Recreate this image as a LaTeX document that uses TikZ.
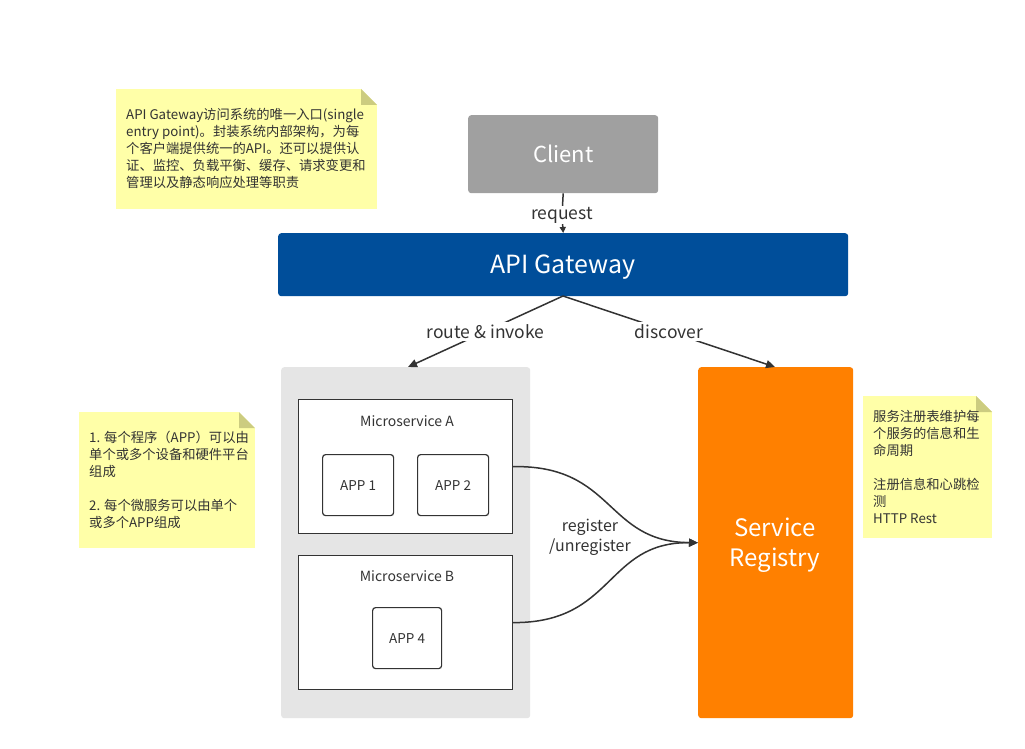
\documentclass[tikz,border=0pt]{standalone}
\usepackage{fontspec}
\setmainfont{Noto Sans CJK SC}
\usetikzlibrary{arrows.meta}
\definecolor{gw}{HTML}{004E9A}
\definecolor{cl}{HTML}{A0A0A0}
\definecolor{reg}{HTML}{FF8000}
\definecolor{cont}{HTML}{E5E5E5}
\definecolor{notebg}{HTML}{FFFFA8}
\definecolor{notefold}{HTML}{CCCC80}
\definecolor{ink}{HTML}{333333}
\tikzset{
  bigbox/.style={rounded corners=3pt, inner sep=0pt, anchor=north west, text=white},
  msbox/.style={draw=ink, line width=1.2pt, fill=white, anchor=north west, inner sep=0pt},
  appbox/.style={draw=ink, line width=1.2pt, fill=white, rounded corners=3pt, anchor=north west, inner sep=0pt, font=\fontsize{13.5}{15}\selectfont, text=ink},
  notebox/.style={fill=notebg, anchor=north west, inner sep=0pt},
  notetext/.style={anchor=north west, inner sep=0pt, align=left, text=ink, font=\fontsize{13.3}{17}\selectfont},
  conn/.style={draw=ink, line width=1.5pt, -{Triangle[length=9pt,width=8pt]}},
  lbl/.style={fill=white, text=ink, font=\fontsize{17.5}{20}\selectfont, inner sep=2pt},
}
\newcommand{\notefoldat}[2]{%
  \fill[white] (#1-16,#2) -- (#1,#2) -- (#1,#2+16) -- cycle;
  \fill[notefold] (#1-16,#2) -- (#1-16,#2+16) -- (#1,#2+16) -- cycle;}
\begin{document}
\begin{tikzpicture}[x=1pt,y=-1pt]
\useasboundingbox (0,0) rectangle (1025,749);
\fill[white] (0,0) rectangle (1025,749);
% note 1
\node[notebox, minimum width=261pt, minimum height=120pt] (n1) at (116,89) {};
\notefoldat{377}{89}
\node[notetext] (t1) at (126,108) {API Gateway访问系统的唯一入口(single\\entry point)。封装系统内部架构，为每\\个客户端提供统一的API。还可以提供认\\证、监控、负载平衡、缓存、请求变更和\\管理以及静态响应处理等职责};
% note 2
\node[notebox, minimum width=176pt, minimum height=136pt] (n2) at (79,412) {};
\notefoldat{255}{412}
\node[notetext] (t2) at (89,431) {1. 每个程序（APP）可以由\\单个或多个设备和硬件平台\\组成\\\mbox{}\\2. 每个微服务可以由单个\\或多个APP组成};
% note 3
\node[notebox, minimum width=129pt, minimum height=142pt] (n3) at (863,396) {};
\notefoldat{992}{396}
\node[notetext] (t3) at (873,410) {服务注册表维护每\\个服务的信息和生\\命周期\\\mbox{}\\注册信息和心跳检\\测\\HTTP Rest};
% client
\node[bigbox, fill=cl, minimum width=190pt, minimum height=78pt, font=\fontsize{22}{26}\selectfont] (client) at (468,115) {Client};
% gateway
\node[bigbox, fill=gw, minimum width=570pt, minimum height=63pt] (gw) at (278,233) {};
\node[text=white, font=\fontsize{25}{28}\selectfont] (gwl) at (563,267) {API Gateway};
% container
\node[bigbox, fill=cont, minimum width=249pt, minimum height=351pt] (cont) at (281,367) {};
% registry
\node[bigbox, fill=reg, minimum width=155pt, minimum height=351pt] (reg) at (698,367) {};
\node[text=white, align=center, font=\fontsize{24}{30}\selectfont] (regl) at (775,545) {Service\\Registry};
% microservices
\node[msbox, minimum width=214pt, minimum height=134pt] (msa) at (298,399) {};
\node[text=ink, font=\fontsize{14}{15}\selectfont] (msal) at (407,421) {Microservice A};
\node[appbox, minimum width=71pt, minimum height=61pt] (app1) at (322,454) {APP 1};
\node[appbox, minimum width=71pt, minimum height=61pt] (app2) at (417,454) {APP 2};
\node[msbox, minimum width=214pt, minimum height=134pt] (msb) at (298,555) {};
\node[text=ink, font=\fontsize{14}{15}\selectfont] (msbl) at (407,576) {Microservice B};
\node[appbox, minimum width=69pt, minimum height=61pt] (app4) at (372,607) {APP 4};
% connectors
\coordinate (gwb) at (563,296);
\coordinate (conttop) at (408,367);
\coordinate (regtop) at (775,367);
\coordinate (reqlab) at (562,215);
\draw[draw=ink, line width=1.5pt] (client.south) -- (reqlab);
\draw[draw=ink, line width=1.5pt, -{Triangle[length=6pt,width=6pt]}] (reqlab) -- (gw.north);
\node[lbl, inner sep=1pt] (lreq) at (reqlab) {request};
\draw[conn] (gwb) -- node[lbl] (lroute) {route \& invoke} (conttop);
\draw[conn] (gwb) -- node[lbl] (ldisc) {discover} (regtop);
\draw[conn] (msa.east) .. controls (615,465) and (605,542) .. (reg.west);
\draw[conn] (msb.east) .. controls (615,623) and (605,542) .. (reg.west);
\node[text=ink, align=center, font=\fontsize{16}{20}\selectfont] (lreg) at (590,537) {register\\/unregister};
\end{tikzpicture}
\end{document}
